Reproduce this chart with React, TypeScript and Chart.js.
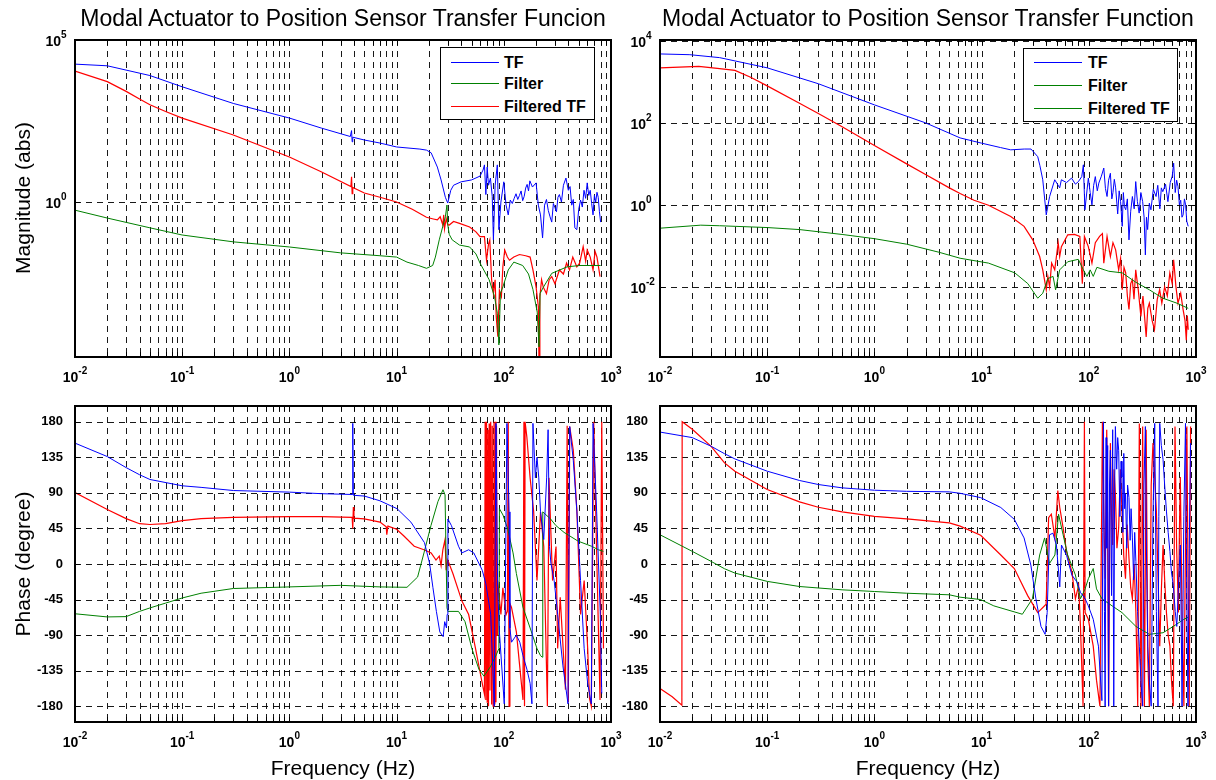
import React, { useEffect, useRef } from "react";
import { Chart, registerables } from "chart.js";
Chart.register(...registerables);

type Pt = [number, number];

const FONT = '"Liberation Sans", Arial, Helvetica, sans-serif';

// ---- tick labels ----
const xTickExponents = [-2, -1, 0, 1, 2, 3];
const xMinorMultipliers = [1, 2, 3, 4, 5, 6, 7, 8, 9];
const magLeftTickExponents = [0, 5];
const magRightTickExponents = [-2, 0, 2, 4];
const phaseTicks = [-180, -135, -90, -45, 0, 45, 90, 135, 180];

const titleLeft = "Modal Actuator to Position Sensor Transfer Funcion";
const titleRight = "Modal Actuator to Position Sensor Transfer Function";
const legendLabels = ["TF", "Filter", "Filtered TF"];

// ---- top-left magnitude ----
const magL_TF: Pt[] = [
  [0.01, 1.8e4], [0.02, 1.6e4], [0.05, 8e3], [0.1, 3.6e3], [0.3, 1.1e3], [1, 390], [2, 190], [3.7, 105], [3.8, 160], [3.85, 72], [3.9, 100],
  [5, 82], [7, 66], [10, 50], [16.5, 43], [19, 40], [21, 33], [24, 12], [26, 4.8], [28.5, 1.4], [30, 0.93], [32, 2.3], [34, 3.3],
  [40, 4.2], [50, 4.8], [60, 6.3], [64, 9.7], [66, 14], [68, 1.7], [70, 12], [72, 3.3], [75, 5.5], [78, 1.5], [80, 0.068], [83, 3.3],
  [87, 14], [90, 0.14], [94, 1.0], [100, 4.2], [105, 0.8], [110, 0.4], [115, 1.15], [120, 0.9], [125, 1.3], [130, 1.8], [135, 1.2],
  [140, 1.6], [145, 2.2], [150, 1.1], [155, 1.5], [160, 2.7], [165, 3.5], [170, 2.2], [175, 4.5], [185, 2.9], [200, 3.9], [210, 0.8],
  [220, 0.4], [230, 0.078], [240, 0.8], [250, 1.2], [260, 0.55], [270, 0.35], [280, 0.24], [290, 0.9], [300, 0.67], [310, 0.5],
  [320, 1.4], [330, 1.7], [345, 1.0], [360, 3.3], [380, 5.5], [400, 2.3], [415, 3.0], [430, 0.8], [445, 1.2], [460, 0.16], [480, 0.14],
  [500, 0.6], [520, 1.15], [540, 0.7], [560, 2.3], [580, 1.3], [600, 3.9], [620, 1.6], [640, 2.3], [660, 0.9], [680, 0.4], [700, 1.6],
  [720, 1.0], [740, 2.0], [760, 1.4], [780, 0.5], [800, 0.24],
];
const magL_Filter: Pt[] = [
  [0.01, 0.56], [0.02, 0.32], [0.05, 0.16], [0.1, 0.096], [0.3, 0.059], [1, 0.041], [3, 0.027], [7, 0.022], [10, 0.02], [12.5, 0.014],
  [16, 0.011], [19, 0.009], [21.7, 0.011], [23, 0.02], [25, 0.068], [27, 0.18], [28.5, 0.35], [29.5, 0.81], [30, 0.2], [31, 0.1],
  [33, 0.068], [38.6, 0.047], [48, 0.041], [55, 0.025], [60, 0.013], [73, 0.004], [82, 0.0012], [87, 0.00037], [90, 0.000039],
  [93, 0.0015], [98, 0.0024], [110, 0.008], [124, 0.014], [150, 0.011], [170, 0.006], [187, 0.002], [205, 0.0004], [213, 0.000034],
  [218, 0.0015], [233, 0.0023], [280, 0.0063], [390, 0.01], [510, 0.011], [690, 0.011], [800, 0.011],
];
const magL_FilteredTF: Pt[] = [
  [0.01, 1.1e4], [0.02, 5.2e3], [0.03, 2.6e3], [0.04, 1.5e3], [0.05, 1.0e3], [0.07, 620], [0.1, 390], [0.3, 117], [1, 24.5], [2, 8.4],
  [3.75, 3.0], [3.8, 6], [3.85, 1.8], [3.9, 2.8], [5, 1.9], [7, 1.4], [10, 1.0], [14, 0.6], [19, 0.34], [22, 0.3], [24, 0.28],
  [25.5, 0.35], [27, 0.195], [27.5, 0.4], [28, 0.15], [29, 0.31], [30, 0.2], [31, 0.195], [34, 0.25], [38.6, 0.22], [48, 0.17],
  [55, 0.12], [60, 0.085], [66, 0.085], [69, 0.016], [72, 0.05], [74, 0.067], [77, 0.004], [80, 0.0015], [83, 0.004], [85, 0.00029],
  [88, 0.00007], [91, 0.0019], [95, 0.0012], [98, 0.01], [102, 0.033], [108, 0.02], [113, 0.016], [124, 0.02], [140, 0.024],
  [160, 0.022], [176, 0.02], [187, 0.008], [200, 0.0024], [210, 0.0006], [213, 0.00001], [217, 0.0012], [225, 0.004], [233, 0.0024],
  [250, 0.0015], [265, 0.004], [280, 0.005], [300, 0.003], [330, 0.008], [360, 0.006], [385, 0.013], [410, 0.008], [440, 0.02],
  [480, 0.01], [510, 0.013], [550, 0.042], [580, 0.015], [600, 0.033], [640, 0.02], [680, 0.008], [710, 0.03], [740, 0.02], [790, 0.005],
];

// ---- top-right magnitude ----
const magR_TF: Pt[] = [
  [0.01, 4800], [0.019, 4600], [0.036, 3900], [0.1, 2200], [0.3, 900], [1, 275], [3, 100], [6.3, 43], [10, 32], [15, 25],
  [18.7, 22], [25, 23], [28.9, 23], [33.4, 15], [35, 9], [37.2, 4.1], [40.1, 0.57], [43.1, 1.6], [48.1, 4.1], [53.5, 2.6],
  [55.5, 4.1], [62, 3.5], [69, 4.5], [75, 3.2], [80, 3.7], [86, 4.9], [89, 9.5], [92, 0.76], [99, 4.5], [103, 2.0], [107, 1.0],
  [111, 3.0], [115, 4.9], [120, 2.2], [124, 3.4], [131, 5.0], [138, 7.9], [143, 2.5], [148, 1.6], [153, 4.0], [159, 5.9], [164, 1.4],
  [168, 2.0], [173, 4.2], [178, 2.6], [186, 0.6], [192, 2.2], [198, 1.2], [205, 0.3], [210, 2.0], [215, 0.9], [221, 0.76],
  [229, 1.4], [237, 0.14], [246, 0.7], [255, 1.6], [265, 0.8], [274, 3.7], [284, 1.2], [295, 0.63], [306, 2.0], [318, 1.2],
  [328, 0.5], [337, 0.06], [345, 0.5], [354, 0.25], [367, 1.1], [380, 0.76], [400, 2.4], [424, 1.6], [440, 3.0], [460, 0.8],
  [475, 2.6], [490, 2.1], [520, 3.2], [547, 1.2], [575, 3.5], [600, 5.0], [619, 10.4], [640, 2.0], [660, 4.0], [679, 2.8],
  [700, 1.0], [720, 1.3], [740, 0.5], [758, 0.57], [780, 1.4], [800, 1.0], [820, 0.4], [846, 0.3],
];
const magR_Filter: Pt[] = [
  [0.01, 0.27], [0.024, 0.32], [0.036, 0.31], [0.1, 0.28], [0.2, 0.25], [0.5, 0.19], [1, 0.15], [2, 0.11], [4, 0.07], [6.3, 0.05],
  [11.6, 0.038], [20.4, 0.022], [27, 0.012], [30, 0.008], [33.4, 0.0053], [37.2, 0.007], [41.5, 0.016], [46.4, 0.018], [49, 0.0085],
  [53.5, 0.026], [63.6, 0.041], [79.8, 0.047], [89, 0.026], [96, 0.018], [103, 0.026], [110, 0.018], [119, 0.03], [154, 0.024],
  [205, 0.022], [274, 0.013], [367, 0.0085], [490, 0.0053], [665, 0.004], [846, 0.003],
];
const magR_FilteredTF: Pt[] = [
  [0.01, 2200], [0.02, 2350], [0.023, 2400], [0.036, 2100], [0.05, 1900], [0.07, 1300], [0.1, 800], [0.2, 300], [0.3, 170],
  [0.5, 80], [1, 28], [2, 10], [3, 5.5], [5, 2.6], [6.3, 1.9], [8.5, 1.3], [11.6, 0.98], [18.7, 0.52], [24.9, 0.3], [30, 0.14],
  [34.8, 0.055], [37.2, 0.026], [40.1, 0.0085], [41.5, 0.018], [43.1, 0.01], [45, 0.038], [48.1, 0.026], [51.8, 0.12],
  [53.5, 0.055], [55.5, 0.096], [63.6, 0.186], [73.5, 0.19], [82.5, 0.17], [87, 0.012], [91, 0.17], [99, 0.096], [107, 0.038],
  [115, 0.12], [126, 0.17], [134, 0.2], [138, 0.038], [148, 0.17], [159, 0.055], [168, 0.12], [178, 0.08], [190, 0.026],
  [198, 0.05], [205, 0.0085], [213, 0.03], [221, 0.022], [229, 0.006], [237, 0.0028], [246, 0.012], [255, 0.015], [264, 0.005],
  [274, 0.026], [290, 0.008], [306, 0.0019], [320, 0.006], [343, 0.0006], [355, 0.003], [367, 0.004], [390, 0.0015], [410, 0.0009],
  [435, 0.005], [458, 0.0085], [480, 0.004], [510, 0.01], [540, 0.006], [570, 0.022], [600, 0.012], [619, 0.046], [650, 0.01],
  [679, 0.004], [720, 0.007], [758, 0.0028], [790, 0.0015], [812, 0.0005], [830, 0.002], [846, 0.0009],
];

// ---- bottom-left phase ----
const phaseL_TF: Pt[] = [
  [0.01, 153], [0.02, 136], [0.03, 122], [0.04, 113], [0.05, 107], [0.1, 99], [0.15, 97], [0.3, 93], [1, 91], [2, 89], [3.85, 88],
  [3.9, 178], [3.95, 87], [5, 86], [7, 80], [10.1, 70], [13.6, 53], [18.2, 27], [20.3, 1], [21.8, -29.5], [23.5, -60], [25.3, -86],
  [27.2, -92], [28.1, -73], [29.2, -81], [29.6, -64], [30.1, 57], [32.5, 48.5], [37.8, 22.5], [40.6, 14], [47, 18], [52.5, 14],
  [63, -8], [68, -25], [75.5, -64], [81.5, -180], [84.6, 178], [87.6, -30], [91, -86], [101, -177], [107, 178], [112, 66],
  [114, -81], [118, -99], [131, -90], [141, -99], [151, -116], [164, -133], [176, -151], [183, -177], [187, 178], [197, 109],
  [204, 135], [212, 109], [220, 66], [236, 31], [251, 109], [259, 170], [267, 22], [275, 1], [295, -21], [318, -64], [356, -129],
  [397, -177], [412, 174], [445, 131], [481, 66], [520, -21], [562, -107], [606, -151], [655, -177], [680, 178], [735, 66],
  [795, -64], [820, -164],
];
const phaseL_Filter: Pt[] = [
  [0.01, -63], [0.02, -67], [0.03, -66.6], [0.04, -60], [0.05, -55.6], [0.07, -49.5], [0.1, -43], [0.15, -37], [0.3, -31],
  [1, -29], [3, -27], [7, -29], [12.5, -29.5], [15.7, -16.5], [18, 14], [20.9, 48.5], [24.3, 79], [27.1, 94], [28.3, 87.5],
  [29.5, -55.5], [30.1, -60], [37.8, -60], [43.5, -73], [50.5, -107.5], [58.7, -133.5], [65.3, -142], [75, -130], [85, -115],
  [90, -107], [91, 70], [98.3, 62], [109, 44], [122, 14], [131, -12], [151, -55], [176, -81], [204, -107], [220, -116],
  [229, -118], [231, 66], [273, 57], [307, 48.5], [365, 40], [492, 29], [658, 22.5], [764, 18], [850, 16],
];
const phaseL_FilteredTF: Pt[] = [
  [0.01, 90.5], [0.02, 69], [0.03, 57.5], [0.04, 51], [0.05, 50], [0.07, 51], [0.1, 55], [0.15, 57.5], [0.3, 59], [1, 60], [2, 60],
  [3.85, 59], [3.9, 45], [3.95, 72], [4.0, 58], [5, 57], [7, 53], [8, 47], [8.1, 37], [8.3, 48], [10, 44], [11.7, 35.5],
  [14.6, 22.5], [18, 18], [21, 14], [23.3, 5], [25, 10], [26, -2], [27, 18], [28.3, 31], [29, -8], [30, 5], [33.5, -12],
  [40.7, -47], [47, -64], [54.5, -107], [62.7, -150], [66, -165], [67, 180], [68, -172], [69, 180], [70, -175], [71, 170],
  [72, -180], [73, 178], [74.3, -160], [75.5, 180], [77, -178], [78, 175], [79.5, -180], [81, 180], [82.5, -178], [83.5, 180],
  [84.5, -175], [85.5, 175], [86.5, -90], [87.6, -21], [94, -64], [98, -30], [105, -64], [108, -60], [110, 180], [112, -180],
  [114, -50], [118, -55], [131, -86], [151, -172], [154, 180], [156, -180], [158, 180], [164, 161], [176, 109], [190, 66],
  [197, 22], [204, -21], [220, 66], [236, 22], [255, -180], [264, 109], [285, -21], [307, 22], [318, -107], [336, -42],
  [376, -159], [390, 175], [400, -175], [412, 174], [445, 144], [481, 66], [520, -64], [562, -21], [606, -107], [630, -170],
  [655, -180], [690, 180], [745, -21], [790, -172], [820, 180], [851, -107],
];

// ---- bottom-right phase ----
const phaseR_TF: Pt[] = [
  [0.01, 167], [0.02, 160], [0.03, 149], [0.04, 139.6], [0.05, 133], [0.1, 117.5], [0.2, 105.7], [0.3, 100.6], [0.5, 96.4],
  [1, 93.4], [2, 92], [5, 91.3], [6.3, 89.5], [9.8, 84], [15.1, 71.5], [20.2, 56.5], [24.9, 33], [28.8, -1.4], [32.1, -44],
  [35.8, -79], [39.1, -89], [40.9, -61.5], [43, 37], [46.3, 39], [49.9, 24], [53.6, -29], [55.6, 24], [62, 11], [69.5, -14],
  [77.7, -23], [83.6, -36], [92.4, -44], [99, -53], [110, -70], [123, -104], [132.5, -173], [135, 40], [137, 180], [140, -60],
  [142, -180], [145, 160], [147, 20], [150, 150], [153, -180], [156, 100], [159, 144], [163, -40], [167, 170], [171, -180],
  [174, 90], [177, 174], [182, 120], [186, 160], [190, 144], [195, 60], [200, 130], [204, 110], [208, 40], [212, 140], [216, 70],
  [220, 89], [226, 20], [230, 100], [237, 84], [243, 30], [248, 70], [255, 33], [262, -20], [268, 40], [275, 3], [285, -60],
  [296, -104], [307, -150], [318, -180], [327, 100], [337, 174], [346, 0], [355, -104], [368, -150], [382, -180], [397, 60],
  [412, 178], [427, -60], [442, -180], [450, 60], [459, 178], [475, 150], [493, 132], [510, 100], [530, 67], [550, 40], [571, 16],
  [590, -10], [614, -27], [640, -60], [662, -79], [690, -20], [714, 24], [730, -90], [741, -180], [770, 60], [798, 178],
  [820, -40], [842, -180], [865, 20], [890, 153],
];
const phaseR_Filter: Pt[] = [
  [0.01, 37], [0.02, 16], [0.03, 3.3], [0.04, -6], [0.05, -11.5], [0.1, -22], [0.2, -28.5], [0.5, -32.7], [1, -34.8], [2, -37],
  [5, -39], [6.3, -42], [9.8, -45], [13, -53], [24, -63.6], [29.8, -44], [34.8, 11.4], [38.7, 33], [43, 0.7], [48.3, 11.4],
  [52.2, 63], [57.6, 37], [63.5, 11.4], [75, -14], [83.6, -44], [92.4, -31.5], [99, -18.6], [110, -5.7], [118, -31.5],
  [132.5, -44], [165, -53], [204, -61.5], [275, -79], [367, -89], [493, -87], [614, -79], [771, -70], [850, -67],
];
const phaseR_FilteredTF: Pt[] = [
  [0.01, -157.6], [0.013, -168], [0.016, -178.7], [0.0161, 180], [0.02, 170.5], [0.03, 149], [0.04, 128], [0.05, 117.5],
  [0.1, 94.3], [0.2, 78.6], [0.3, 71.8], [0.5, 65.9], [1, 60.4], [2, 57], [5, 52], [6.3, 48], [9.8, 36.3], [15.1, 11.4],
  [20.2, -5.7], [26.9, -40], [33.4, -61.5], [40, -51], [42.2, 58.6], [44.7, 63], [48.3, 33], [51.4, 93], [53.6, 71.5],
  [57.6, 45.7], [62, 15.7], [69.5, -10], [75, -44], [80.4, -27], [83.6, -79], [88.4, -180], [91, 180], [92.4, -61.5], [99, -70],
  [110, -104], [118, -147], [127, -180], [134, 180], [138, 60], [142, -18.6], [147, 170], [150, 30], [153, -180], [159, 153],
  [163, 60], [167, 24], [172, 120], [177, 89], [183, 20], [190, 46], [197, 120], [204, 67], [212, 10], [220, -18.6], [228, 50],
  [237, 7.2], [246, -30], [255, -44], [265, 0], [275, -61.5], [286, -180], [296, 178], [307, -180], [318, 174], [330, -180],
  [343, 170], [355, -120], [367, -180], [382, 100], [397, 153], [412, 110], [427, 67], [443, -20], [459, -104], [476, -30],
  [493, 24], [510, -20], [530, -61.5], [550, -90], [571, -104], [592, -150], [614, -180], [637, 174], [660, 20], [686, -61.5],
  [700, 40], [714, 110], [740, -60], [771, -180], [800, 40], [822, 174], [845, -40], [865, -180], [890, 174],
];

// ---- styling ----
const BLUE = "#0000ff";
const GREEN = "#008000";
const RED = "#ff0000";
const GRID_COLOR = "rgba(0,0,0,0.9)";
const GRID_DASH = [6, 5];
const TICK_LEN = 5;
const BASE_PX = 14;
const EXP_PX = 10;
const PHASE_PX = 13;

const xGridValues: number[] = [];
for (const e of xTickExponents.slice(0, -1)) for (const m of xMinorMultipliers) xGridValues.push(m * 10 ** e);
xGridValues.push(10 ** xTickExponents[xTickExponents.length - 1]);

interface Series { label: string; data: Pt[]; color: string; width: number }
interface PanelSpec {
  key: string;
  box: { left: number; top: number; width: number; height: number };
  area: { l: number; t: number; r: number; b: number };
  yLog: boolean;
  yMin: number;
  yMax: number;
  yTicks: number[];
  yLabelExps: number[];
  series: Series[];
}

const panels: PanelSpec[] = [
  {
    key: "tl", box: { left: 0, top: 0, width: 640, height: 400 }, area: { l: 75, t: 40, r: 611, b: 357 },
    yLog: true, yMin: 1.65e-5, yMax: 1e5, yTicks: magLeftTickExponents.map((e) => 10 ** e), yLabelExps: magLeftTickExponents,
    series: [
      { label: "TF", data: magL_TF, color: BLUE, width: 1 },
      { label: "Filter", data: magL_Filter, color: GREEN, width: 1 },
      { label: "Filtered TF", data: magL_FilteredTF, color: RED, width: 1.2 },
    ],
  },
  {
    key: "tr", box: { left: 600, top: 0, width: 616, height: 400 }, area: { l: 660, t: 40, r: 1196, b: 357 },
    yLog: true, yMin: 1.95e-4, yMax: 1.05e4, yTicks: magRightTickExponents.map((e) => 10 ** e), yLabelExps: magRightTickExponents,
    series: [
      { label: "TF", data: magR_TF, color: BLUE, width: 1 },
      { label: "Filter", data: magR_Filter, color: GREEN, width: 1 },
      { label: "Filtered TF", data: magR_FilteredTF, color: RED, width: 1.2 },
    ],
  },
  {
    key: "bl", box: { left: 0, top: 390, width: 640, height: 390 }, area: { l: 75, t: 406, r: 611, b: 722 },
    yLog: false, yMin: -200, yMax: 200, yTicks: phaseTicks, yLabelExps: [],
    series: [
      { label: "TF", data: phaseL_TF, color: BLUE, width: 1 },
      { label: "Filter", data: phaseL_Filter, color: GREEN, width: 1 },
      { label: "Filtered TF", data: phaseL_FilteredTF, color: RED, width: 1.2 },
    ],
  },
  {
    key: "br", box: { left: 600, top: 390, width: 616, height: 390 }, area: { l: 660, t: 406, r: 1196, b: 722 },
    yLog: false, yMin: -200, yMax: 200, yTicks: phaseTicks, yLabelExps: [],
    series: [
      { label: "TF", data: phaseR_TF, color: BLUE, width: 1 },
      { label: "Filter", data: phaseR_Filter, color: GREEN, width: 1 },
      { label: "Filtered TF", data: phaseR_FilteredTF, color: RED, width: 1.2 },
    ],
  },
];

function drawPowerCentered(ctx: CanvasRenderingContext2D, e: number, cx: number, baseline: number) {
  const base = `bold ${BASE_PX}px ${FONT}`;
  const exp = `bold ${EXP_PX}px ${FONT}`;
  const es = String(e);
  ctx.font = base;
  const w1 = ctx.measureText("10").width;
  ctx.font = exp;
  const w2 = ctx.measureText(es).width;
  const x0 = cx - (w1 + w2) / 2;
  ctx.textAlign = "left";
  ctx.textBaseline = "alphabetic";
  ctx.font = base;
  ctx.fillText("10", x0, baseline);
  ctx.font = exp;
  ctx.fillText(es, x0 + w1, baseline - 8);
}

function drawPowerLeftAxis(ctx: CanvasRenderingContext2D, e: number, rightX: number, cy: number) {
  const base = `bold ${BASE_PX}px ${FONT}`;
  const exp = `bold ${EXP_PX}px ${FONT}`;
  ctx.textBaseline = "alphabetic";
  ctx.font = base;
  ctx.textAlign = "right";
  ctx.fillText("10", rightX, cy + 6);
  ctx.font = exp;
  ctx.textAlign = "left";
  ctx.fillText(String(e), rightX, cy - 2);
}

function makeAxesPlugin(spec: PanelSpec) {
  return {
    id: "matlabAxes_" + spec.key,
    beforeDatasetsDraw(chart: any) {
      const { ctx, chartArea: a } = chart;
      const xs = chart.scales.x;
      const ys = chart.scales.y;
      ctx.save();
      ctx.beginPath();
      ctx.rect(a.left, a.top, a.right - a.left, a.bottom - a.top);
      ctx.clip();
      ctx.strokeStyle = GRID_COLOR;
      ctx.lineWidth = 1;
      ctx.setLineDash(GRID_DASH);
      for (const v of xGridValues) {
        const x = Math.round(xs.getPixelForValue(v)) + 0.5;
        if (x <= a.left + 1 || x >= a.right - 1) continue;
        ctx.beginPath();
        ctx.moveTo(x, a.top);
        ctx.lineTo(x, a.bottom);
        ctx.stroke();
      }
      for (const v of spec.yTicks) {
        const y = Math.round(ys.getPixelForValue(v)) + 0.5;
        if (y <= a.top + 1 || y >= a.bottom - 1) continue;
        ctx.beginPath();
        ctx.moveTo(a.left, y);
        ctx.lineTo(a.right, y);
        ctx.stroke();
      }
      ctx.restore();
    },
    afterDraw(chart: any) {
      const { ctx, chartArea: a } = chart;
      const xs = chart.scales.x;
      const ys = chart.scales.y;
      ctx.save();
      ctx.setLineDash([]);
      ctx.strokeStyle = "#000";
      ctx.lineWidth = 1;
      ctx.beginPath();
      for (const v of xGridValues) {
        const x = Math.round(xs.getPixelForValue(v)) + 0.5;
        ctx.moveTo(x, a.bottom);
        ctx.lineTo(x, a.bottom - TICK_LEN);
        ctx.moveTo(x, a.top);
        ctx.lineTo(x, a.top + TICK_LEN);
      }
      for (const v of spec.yTicks) {
        const y = Math.round(ys.getPixelForValue(v)) + 0.5;
        if (y < a.top || y > a.bottom) continue;
        ctx.moveTo(a.left, y);
        ctx.lineTo(a.left + TICK_LEN, y);
        ctx.moveTo(a.right, y);
        ctx.lineTo(a.right - TICK_LEN, y);
      }
      ctx.stroke();
      ctx.lineWidth = 2;
      ctx.strokeRect(a.left, a.top, a.right - a.left, a.bottom - a.top);
      ctx.fillStyle = "#000";
      for (const e of xTickExponents) {
        drawPowerCentered(ctx, e, xs.getPixelForValue(10 ** e), a.bottom + 25);
      }
      if (spec.yLog) {
        for (const e of spec.yLabelExps) drawPowerLeftAxis(ctx, e, a.left - 14, ys.getPixelForValue(10 ** e));
      } else {
        ctx.font = `bold ${PHASE_PX}px ${FONT}`;
        ctx.textAlign = "right";
        ctx.textBaseline = "middle";
        for (const v of spec.yTicks) ctx.fillText(String(v), a.left - 12, ys.getPixelForValue(v));
      }
      ctx.restore();
    },
  };
}

function PanelChart({ spec }: { spec: PanelSpec }) {
  const ref = useRef<HTMLCanvasElement>(null);
  useEffect(() => {
    const canvas = ref.current;
    if (!canvas) return;
    const { box, area } = spec;
    const chart = new Chart(canvas, {
      type: "line",
      data: {
        datasets: spec.series.map((s) => ({
          label: s.label,
          data: s.data.map(([x, y]) => ({ x, y })),
          borderColor: s.color,
          backgroundColor: s.color,
          borderWidth: s.width,
          pointRadius: 0,
          pointHoverRadius: 0,
          fill: false,
          tension: 0,
        })),
      },
      options: {
        animation: false,
        responsive: false,
        maintainAspectRatio: false,
        devicePixelRatio: 1,
        events: [],
        layout: {
          padding: {
            left: area.l - box.left,
            top: area.t - box.top,
            right: box.left + box.width - area.r,
            bottom: box.top + box.height - area.b,
          },
        },
        plugins: { legend: { display: false }, tooltip: { enabled: false }, title: { display: false } },
        scales: {
          x: { type: "logarithmic", min: 0.01, max: 1000, display: false },
          y: { type: spec.yLog ? "logarithmic" : "linear", min: spec.yMin, max: spec.yMax, display: false },
        },
      } as any,
      plugins: [makeAxesPlugin(spec)],
    });
    return () => chart.destroy();
  }, [spec]);
  return (
    <canvas
      ref={ref}
      width={spec.box.width}
      height={spec.box.height}
      style={{ position: "absolute", left: spec.box.left, top: spec.box.top, width: spec.box.width, height: spec.box.height, display: "block" }}
    />
  );
}

function Legend({ x, y, w, h, rows, colors, textLeft }: { x: number; y: number; w: number; h: number; rows: number[]; colors: string[]; textLeft: number }) {
  return (
    <div style={{ position: "absolute", left: x, top: y, width: w, height: h, border: "1px solid #000", background: "#fff", boxSizing: "border-box" }}>
      {legendLabels.map((lab, i) => (
        <div key={lab}>
          <div style={{ position: "absolute", left: 10, top: rows[i] - 1, width: 48, height: 1, background: colors[i] }} />
          <div style={{ position: "absolute", left: textLeft, top: rows[i] - 10, height: 20, lineHeight: "20px", fontSize: 16, fontWeight: "bold", whiteSpace: "nowrap", color: "#000" }}>
            {lab}
          </div>
        </div>
      ))}
    </div>
  );
}

function CenterText({ x, y, size, text, rotate }: { x: number; y: number; size: number; text: string; rotate?: boolean }) {
  return (
    <div
      style={{
        position: "absolute",
        left: x,
        top: y,
        transform: `translate(-50%, -50%)${rotate ? " rotate(-90deg)" : ""}`,
        fontSize: size,
        lineHeight: `${size + 2}px`,
        whiteSpace: "nowrap",
        color: "#000",
      }}
    >
      {text}
    </div>
  );
}

export default function App() {
  return (
    <div style={{ position: "absolute", left: 0, top: 0, width: 1216, height: 780, background: "#fff", overflow: "hidden", fontFamily: FONT }}>
      {panels.map((p) => (
        <PanelChart key={p.key} spec={p} />
      ))}
      <CenterText x={343} y={18} size={23} text={titleLeft} />
      <CenterText x={928} y={18} size={23} text={titleRight} />
      <CenterText x={22} y={198} size={21} text="Magnitude (abs)" rotate />
      <CenterText x={22} y={564} size={21} text="Phase (degree)" rotate />
      <CenterText x={343} y={767} size={21} text="Frequency (Hz)" />
      <CenterText x={928} y={767} size={21} text="Frequency (Hz)" />
      <Legend x={440} y={47} w={155} h={73} rows={[15, 36, 59]} colors={[BLUE, GREEN, RED]} textLeft={63} />
      <Legend x={1023} y={48} w={155} h={74} rows={[14, 37, 60]} colors={[BLUE, GREEN, GREEN]} textLeft={64} />
    </div>
  );
}
